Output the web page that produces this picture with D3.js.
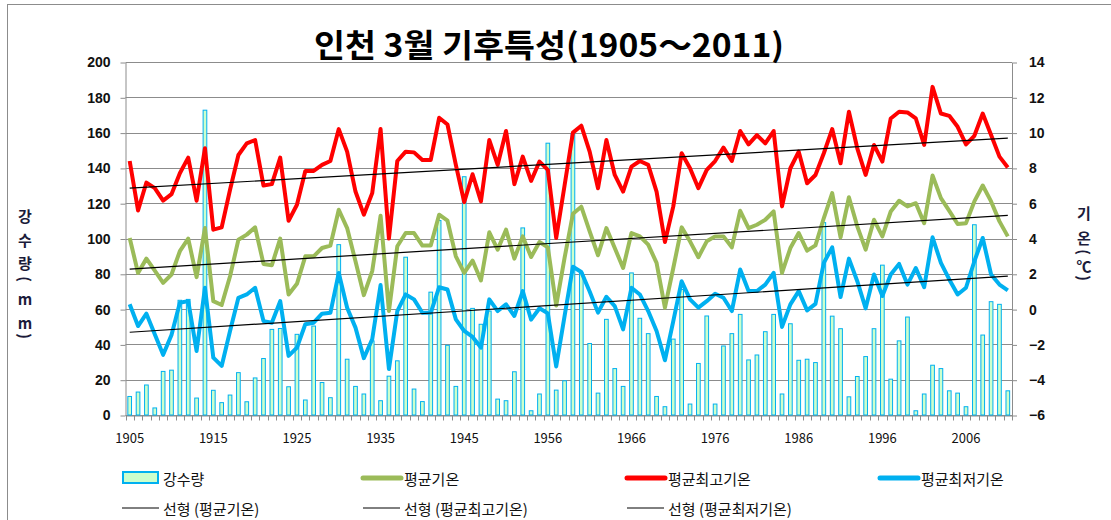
<!DOCTYPE html>
<html>
<head>
<meta charset="utf-8">
<script src="https://cdn.jsdelivr.net/npm/d3@7"></script>
<style>
body { margin: 0; background: #fff; }
text { font-family: "Noto Sans CJK KR", "Liberation Sans", sans-serif; }
.num { font-family: "Liberation Sans", Arial, sans-serif; font-weight: bold; }
</style>
</head>
<body>
<svg id="chart_svg" width="1111" height="520"></svg>
<script>
// categories (1951 is missing in the source series)
var years = ["1905","1906","1907","1908","1909","1910","1911","1912","1913","1914",
             "1915","1916","1917","1918","1919","1920","1921","1922","1923","1924",
             "1925","1926","1927","1928","1929","1930","1931","1932","1933","1934",
             "1935","1936","1937","1938","1939","1940","1941","1942","1943","1944",
             "1945","1946","1947","1948","1949","1950","1952","1953","1954","1955",
             "1956","1957","1958","1959","1960","1961","1962","1963","1964","1965",
             "1966","1967","1968","1969","1970","1971","1972","1973","1974","1975",
             "1976","1977","1978","1979","1980","1981","1982","1983","1984","1985",
             "1986","1987","1988","1989","1990","1991","1992","1993","1994","1995",
             "1996","1997","1998","1999","2000","2001","2002","2003","2004","2005",
             "2006","2007","2008","2009","2010","2011"];
var labelYears = ["1905","1915","1925","1935","1945","1956","1966","1976","1986","1996","2006"];

// 강수량 (mm)
var rain = [10.5,13,17,4,24.7,25.4,65,65.5,9.6,172.7,
            14,7,11.3,24,7.5,21,32,48.5,49,16,
            45.7,8.5,50.4,18.4,9.8,96.5,31.6,16.2,11.9,42,
            8.1,22,30.7,89.4,14.7,7.6,69.6,110.2,39.5,16.2,
            135,60.4,51.4,58.9,9,8.1,24.5,106,2.4,11.9,
            154,14.1,19.4,159.5,80.5,40.5,12.4,54.2,26.3,16.2,
            80.5,54.8,46.1,10.5,4.7,43,71.1,6.2,29.2,56.1,
            6.2,39.1,46.1,57,31.2,34,47.2,57,11.9,51.7,
            31,31.6,29.7,109,56,48.9,10.3,21.8,33.1,48.9,
            84.9,20.3,42,55.5,2.4,11.9,28.2,26.3,13.7,12.4,
            4.7,107.8,45.3,64.2,62.7,13.7];

// 평균기온
var tAvg = [4.03,2.05,2.86,2.18,1.49,1.96,3.28,3.99,1.81,4.59,
            0.45,0.23,1.86,3.93,4.22,4.63,2.56,2.49,3.99,0.83,
            1.43,2.99,2.99,3.46,3.6,5.63,4.59,2.71,0.79,2.15,
            5.29,-0.11,3.56,4.31,4.31,3.6,3.6,5.35,5.01,2.99,
            2.05,2.75,1.62,4.35,3.37,4.5,2.86,4.12,2.95,3.8,
            3.5,0.2,2.9,5.4,5.8,4.4,3.05,4.59,3.46,2.33,
            4.31,4.12,3.65,2.62,0.08,2.33,4.63,3.84,2.94,3.84,
            4.12,4.12,3.5,5.57,4.59,4.78,5.06,5.53,2.05,3.46,
            4.31,3.31,3.61,5.16,6.57,4.07,6.34,4.69,3.37,5.06,
            4.12,5.53,6.14,5.82,6,4.87,7.57,6.29,5.57,4.82,
            4.87,6.1,7,6.1,4.97,4.12];

// 평균최고기온
var tMax = [8.39,5.59,7.17,6.85,6.15,6.51,7.7,8.58,6.14,9.11,
            4.5,4.63,6.76,8.73,9.39,9.58,7,7.08,8.58,5,
            5.91,7.83,7.83,8.17,8.39,10.2,8.92,6.66,5.35,6.57,
            10.2,4,8.39,8.92,8.88,8.45,8.45,10.84,10.46,8.17,
            6.06,7.64,6.1,9.58,8.17,10.09,7.08,8.64,7.26,8.36,
            7.89,4.03,7,10,10.39,8.92,6.85,9.58,7.6,6.66,
            8.07,8.39,8.17,6.66,3.8,5.82,8.83,7.98,6.85,7.89,
            8.39,9.15,8.39,10.09,9.33,9.86,9.39,10.09,5.82,7.98,
            8.92,7.13,7.6,8.83,10.2,8.26,11.18,9.11,7.6,9.3,
            8.36,10.8,11.18,11.14,10.8,9.3,12.59,11.08,10.95,10.33,
            9.33,9.82,11.08,9.86,8.64,8.02];

// 평균최저기온
var tMin = [0.27,-0.96,-0.26,-1.43,-2.59,-1.47,0.36,0.45,-2.37,1.21,
            -2.75,-3.22,-1.24,0.64,0.83,1.21,-0.68,-0.77,0.45,-2.65,
            -2.18,-0.86,-0.77,-0.26,-0.21,2.05,0.08,-1.05,-2.78,-1.71,
            1.36,-3.4,-0.11,0.83,0.55,-0.21,-0.21,1.24,1.11,-0.58,
            -1.24,-1.58,-2.18,0.55,-0.11,0.27,-0.39,1.02,-0.6,0.05,
            -0.24,-3.25,-0.4,2.4,2.1,1,-0.2,0.7,0.17,-1.15,
            1.21,0.83,-0.11,-1.24,-2.9,-0.68,1.58,0.55,0.08,0.45,
            0.87,0.64,-0.11,2.24,1.02,1.02,1.39,2.05,-1.01,0.27,
            1.02,-0.07,0.3,2.62,3.5,0.68,2.86,1.58,0.04,1.96,
            0.74,1.96,2.56,1.39,2.33,1.24,4.07,2.62,1.68,0.83,
            1.21,2.71,4.03,1.96,1.39,1.06];

var leftTicks = [0,20,40,60,80,100,120,140,160,180,200];
var rightTicks = [-6,-4,-2,0,2,4,6,8,10,12,14];

var plot = {left: 125.5, right: 1012, top: 62, bottom: 415};
var gridColor = "#8c8c8c";
var colors = {avg: "#9bbb59", max: "#ff0000", min: "#00b0f0", barFill: "#ccffcc", barStroke: "#00b0f0"};

var base = d3.select('#chart_svg');

// outer chart border
base.append("rect")
    .attr("x", 7.5).attr("y", 4.5)
    .attr("width", 1200).attr("height", 600)
    .attr("fill", "#fff")
    .attr("stroke", "#8c8c8c");

var x = d3.scaleBand()
            .domain(years)
            .range([plot.left, plot.right])
            .paddingInner(0.56)
            .paddingOuter(0.28);
var cx = function(yr) { return x(yr) + x.bandwidth() / 2; };
var yL = d3.scaleLinear().domain([0, 200]).range([plot.bottom, plot.top]);
var yR = d3.scaleLinear().domain([-6, 14]).range([plot.bottom, plot.top]);

// gridlines
base.append("g")
    .attr("id", "grid")
    .selectAll("line")
    .data(leftTicks)
    .enter().append("line")
    .attr("x1", plot.left).attr("x2", plot.right)
    .attr("y1", function(d) { return Math.round(yL(d)) + 0.5; })
    .attr("y2", function(d) { return Math.round(yL(d)) + 0.5; })
    .attr("stroke", gridColor)
    .attr("stroke-width", 1);

// left axis
var leftAxis = base.append("g")
    .attr("transform", "translate(" + plot.left + ",0.5)")
    .call(d3.axisLeft(yL).tickValues(leftTicks).tickSize(5).tickSizeOuter(0).tickPadding(10));
leftAxis.select(".domain").attr("stroke", gridColor);
leftAxis.selectAll(".tick line").attr("stroke", gridColor);
leftAxis.selectAll("text").attr("class", "num").attr("font-size", "14px").attr("fill", "#111");

// right axis
var rightAxis = base.append("g")
    .attr("transform", "translate(" + plot.right + ",0.5)")
    .call(d3.axisRight(yR).tickValues(rightTicks).tickSize(5).tickSizeOuter(0).tickPadding(12));
rightAxis.select(".domain").attr("stroke", gridColor);
rightAxis.selectAll(".tick line").attr("stroke", gridColor);
rightAxis.selectAll("text").attr("class", "num").attr("font-size", "14px").attr("fill", "#111");

// bottom axis: tick marks at category boundaries, labels every 10th category
var bottomAxis = base.append("g")
    .attr("transform", "translate(0," + (Math.round(plot.bottom) + 0.5) + ")")
    .call(d3.axisBottom(x).tickValues(labelYears).tickSize(0).tickPadding(18));
bottomAxis.select(".domain").attr("stroke", gridColor);
bottomAxis.selectAll("text").attr("font-size", "13px").attr("fill", "#111");
bottomAxis.selectAll(".catTick")
    .data(years.concat(["end"]))
    .enter().append("line")
    .attr("class", "catTick")
    .attr("x1", function(d) { return Math.round(d === "end" ? plot.right : cx(d) - x.step() / 2) + 0.5; })
    .attr("x2", function(d) { return Math.round(d === "end" ? plot.right : cx(d) - x.step() / 2) + 0.5; })
    .attr("y1", 0).attr("y2", 5)
    .attr("stroke", gridColor);

// bars
base.append("g")
    .attr("id", "rain-bars")
    .selectAll("rect")
    .data(rain)
    .enter().append("rect")
    .attr("x", function(d, i) { return x(years[i]); })
    .attr("width", x.bandwidth())
    .attr("y", function(d) { return yL(d); })
    .attr("height", function(d) { return yL(0) - yL(d); })
    .attr("fill", colors.barFill)
    .attr("stroke", colors.barStroke)
    .attr("stroke-width", 1);

// temperature lines
var line = d3.line()
    .x(function(d, i) { return cx(years[i]); })
    .y(function(d) { return yR(d); });

[[tAvg, colors.avg], [tMax, colors.max], [tMin, colors.min]].forEach(function(s) {
    base.append("path")
        .datum(s[0])
        .attr("d", line)
        .attr("fill", "none")
        .attr("stroke", s[1])
        .attr("stroke-width", 4)
        .attr("stroke-linejoin", "round");
});

// linear trend lines (least squares, like Excel)
function trend(vals) {
    var n = vals.length;
    var mx = d3.mean(vals, function(d, i) { return i; });
    var my = d3.mean(vals);
    var sxy = d3.sum(vals, function(d, i) { return (i - mx) * (d - my); });
    var sxx = d3.sum(vals, function(d, i) { return (i - mx) * (i - mx); });
    var b = sxy / sxx, a = my - b * mx;
    return [[0, a], [n - 1, a + b * (n - 1)]];
}
[tAvg, tMax, tMin].forEach(function(s) {
    base.append("path")
        .datum(trend(s))
        .attr("d", d3.line()
            .x(function(d) { return cx(years[d[0]]); })
            .y(function(d) { return yR(d[1]); }))
        .attr("fill", "none")
        .attr("stroke", "#000")
        .attr("stroke-width", 1.2);
});

// title
base.append("text")
    .text("인천 3월 기후특성(1905～2011)")
    .attr("x", 549).attr("y", 57)
    .attr("text-anchor", "middle")
    .attr("font-size", "32px")
    .attr("font-weight", "bold")
    .attr("textLength", 470)
    .attr("lengthAdjust", "spacingAndGlyphs")
    .attr("fill", "#000");

// vertical axis titles (stacked characters)
function stackedTitle(chars, xPos, yPositions) {
    var g = base.append("g");
    chars.forEach(function(c, i) {
        var t = g.append("text")
            .text(c)
            .attr("font-size", "15px")
            .attr("font-weight", "bold")
            .attr("fill", "#1b1b3a")
            .attr("text-anchor", "middle")
            .attr("dominant-baseline", "central");
        if (c === "(" || c === ")") {
            t.attr("transform", "translate(" + xPos + "," + yPositions[i] + ") rotate(90)");
        } else {
            t.attr("x", xPos).attr("y", yPositions[i]);
        }
    });
}
stackedTitle(["강", "수", "량", "(", "m", "m", ")"], 25, [215, 239, 262, 279, 298, 322, 336]);
stackedTitle(["기", "온", "(", "℃", ")"], 1084, [212, 237, 252, 265, 278]);

// legend
var legendItems = [
    {label: "강수량", type: "bar", col: 0, row: 0},
    {label: "평균기온", type: "line", color: colors.avg, col: 1, row: 0},
    {label: "평균최고기온", type: "line", color: colors.max, col: 2, row: 0},
    {label: "평균최저기온", type: "line", color: colors.min, col: 3, row: 0},
    {label: "선형 (평균기온)", type: "trend", col: 0, row: 1},
    {label: "선형 (평균최고기온)", type: "trend", col: 1, row: 1},
    {label: "선형 (평균최저기온)", type: "trend", col: 2, row: 1}
];
var legendCols = [122, 363, 627, 880];
var legendRows = [478, 508];
var legendGroup = base.append("g").attr("id", "legend-group");
legendItems.forEach(function(it) {
    var g = legendGroup.append("g")
        .attr("transform", "translate(" + legendCols[it.col] + "," + legendRows[it.row] + ")");
    if (it.type === "bar") {
        g.append("rect").attr("x", 1).attr("y", -6).attr("width", 35).attr("height", 11)
            .attr("fill", colors.barFill).attr("stroke", colors.barStroke).attr("stroke-width", 2);
    } else if (it.type === "line") {
        g.append("line").attr("x1", 0).attr("x2", 38).attr("y1", 0).attr("y2", 0)
            .attr("stroke", it.color).attr("stroke-width", 5).attr("stroke-linecap", "round");
    } else {
        g.append("line").attr("x1", 0).attr("x2", 37).attr("y1", 0).attr("y2", 0)
            .attr("stroke", "#000").attr("stroke-width", 1);
    }
    g.append("text")
        .text(it.label)
        .attr("x", 41).attr("y", 0)
        .attr("dominant-baseline", "central")
        .attr("font-size", "15px")
        .attr("fill", "#111");
});
</script>
</body>
</html>
